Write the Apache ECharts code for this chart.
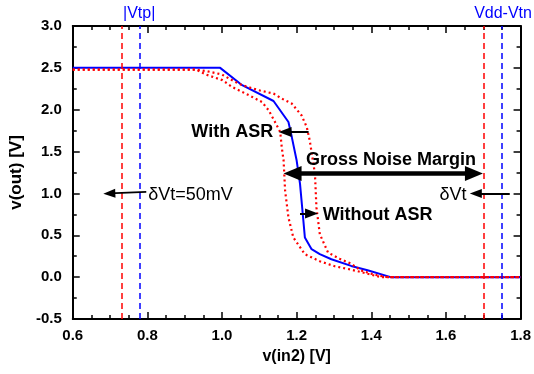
<!DOCTYPE html>
<html><head><meta charset="utf-8">
<script src="https://cdn.jsdelivr.net/npm/echarts@6/dist/echarts.min.js"></script>
<style>html,body{margin:0;padding:0;background:#fff}#c{width:534px;height:374px}</style>
</head><body><div id="c"></div>
<script>
// ---- data ----
const xTickLabels = ['0.6','0.8','1.0','1.2','1.4','1.6','1.8'];
const yTickLabels = ['-0.5','0.0','0.5','1.0','1.5','2.0','2.5','3.0'];

const blueX = [0.60, 0.995, 1.054, 1.138, 1.178, 1.187, 1.200, 1.209, 1.218, 1.222, 1.240, 1.262, 1.293, 1.346, 1.390, 1.452, 1.80];
const blueY = [2.50, 2.50, 2.293, 2.104, 1.853, 1.673, 1.393, 1.114, 0.674, 0.474, 0.334, 0.274, 0.214, 0.134, 0.083, 0.0, 0.0];

const redInnerX = [0.60, 0.93, 0.957, 1.001, 1.027, 1.072, 1.107, 1.125, 1.142, 1.156, 1.160, 1.165, 1.169, 1.178, 1.191, 1.222, 1.262, 1.302, 1.346, 1.390, 1.426, 1.80];
const redInnerY = [2.48, 2.48, 2.42, 2.353, 2.272, 2.173, 2.092, 1.993, 1.853, 1.733, 1.553, 1.393, 1.034, 0.713, 0.474, 0.274, 0.19, 0.13, 0.09, 0.04, 0.0, 0.0];

const redOuterX = [0.60, 0.93, 0.96, 1.00, 1.036, 1.054, 1.098, 1.138, 1.160, 1.187, 1.213, 1.227, 1.235, 1.249, 1.253, 1.262, 1.284, 1.315, 1.346, 1.372, 1.408, 1.443, 1.80];
const redOuterY = [2.48, 2.48, 2.46, 2.42, 2.33, 2.293, 2.233, 2.193, 2.133, 2.073, 1.933, 1.793, 1.633, 1.234, 0.833, 0.514, 0.294, 0.22, 0.16, 0.08, 0.03, 0.0, 0.0];

const redVLines = [0.728, 1.703];
const blueVLines = [0.778, 1.753];

// annotation arrows: [x1,y1,x2,y2] (head at x2,y2)
const arrowWithASR = [1.232, 1.735, 1.169, 1.735];
const arrowWithoutASR = [1.209, 0.760, 1.240, 0.760];
const arrowGross = [1.189, 1.238, 1.675, 1.238];
const arrowDvtLeft = [0.797, 1.018, 0.698, 1.000];
const arrowDvtRight = [1.771, 1.000, 1.680, 1.000];

// annotation texts
const textItems = [
  {name:'With ASR', value:[1.137, 1.735], bold:true, align:'right', color:'#000'},
  {name:'Gross Noise Margin', value:[1.225, 1.40], bold:true, align:'left', color:'#000'},
  {name:'Without ASR', value:[1.270, 0.745], bold:true, align:'left', color:'#000'},
  {name:'δVt=50mV', value:[0.802, 0.98], bold:false, align:'left', color:'#000'},
  {name:'δVt', value:[1.655, 0.98], bold:false, align:'right', color:'#000'},
  {name:'|Vtp|', value:[blueVLines[0], 3.0], bold:false, align:'center', color:'#0000ff', top:true},
  {name:'Vdd-Vtn', value:[blueVLines[1], 3.0], bold:false, align:'center', color:'#0000ff', top:true}
];

const zip = (xs, ys) => xs.map((x, i) => [x, ys[i]]);
const FONT = "'Liberation Sans', Arial, sans-serif";

const xMin = parseFloat(xTickLabels[0]), xMax = parseFloat(xTickLabels[xTickLabels.length-1]);
const yMin = parseFloat(yTickLabels[0]), yMax = parseFloat(yTickLabels[yTickLabels.length-1]);

function axisCommon(showLabel) {
  return {
    axisLine: {show:true, onZero:false, lineStyle:{color:'#000', width:2}},
    axisTick: {show:true, inside:true, length:7, lineStyle:{color:'#000', width:1.5}},
    splitLine: {show:false},
    minorSplitLine: {show:false},
    axisLabel: {show:showLabel, color:'#000', fontWeight:'bold', fontSize:15, fontFamily:FONT,
                formatter: v => v.toFixed(1)}
  };
}

function arrow(a, width, headW, headL, both) {
  const head = {symbol:'triangle', symbolSize:[headW, headL]};
  return [
    Object.assign({coord:[a[0], a[1]], lineStyle:{color:'#000', width:width, type:'solid'}}, both ? head : {symbol:'none'}),
    Object.assign({coord:[a[2], a[3]]}, head)
  ];
}

const chart = echarts.init(document.getElementById('c'), null, {renderer:'canvas'});
chart.setOption({
  animation:false,
  backgroundColor:'#fff',
  grid:{left:69, right:13, top:26, bottom:55, containLabel:false},
  xAxis:[
    Object.assign(axisCommon(true), {type:'value', min:xMin, max:xMax, interval:0.2, position:'bottom',
      minorTick:{show:true, splitNumber:4, length:4, lineStyle:{color:'#000', width:1.5}},
      axisLabel:{color:'#000', fontWeight:'bold', fontSize:15, fontFamily:FONT, margin:9, formatter:v=>v.toFixed(1)},
      name:'v(in2) [V]', nameLocation:'middle', nameGap:30,
      nameTextStyle:{color:'#000', fontWeight:'bold', fontSize:16, fontFamily:FONT}}),
    Object.assign(axisCommon(false), {type:'value', min:xMin, max:xMax, interval:0.2, position:'top',
      minorTick:{show:true, splitNumber:4, length:4, lineStyle:{color:'#000', width:1.5}}})
  ],
  yAxis:[
    Object.assign(axisCommon(true), {type:'value', min:yMin, max:yMax, interval:0.5, position:'left',
      minorTick:{show:true, splitNumber:2, length:4, lineStyle:{color:'#000', width:1.5}},
      axisLabel:{color:'#000', fontWeight:'bold', fontSize:15, fontFamily:FONT, margin:11, formatter:v=>v.toFixed(1)},
      name:'v(out) [V]', nameLocation:'middle', nameGap:37, nameRotate:90,
      nameTextStyle:{color:'#000', fontWeight:'bold', fontSize:17, fontFamily:FONT}}),
    Object.assign(axisCommon(false), {type:'value', min:yMin, max:yMax, interval:0.5, position:'right',
      minorTick:{show:true, splitNumber:2, length:4, lineStyle:{color:'#000', width:1.5}}})
  ],
  series:[
    {type:'line', name:'blue', data:zip(blueX, blueY), showSymbol:false, symbol:'none', z:3,
     lineStyle:{color:'#0000ff', width:2}},
    {type:'line', name:'redInner', data:zip(redInnerX, redInnerY), symbol:'none', z:4,
     lineStyle:{color:'#ff0000', width:2.2, type:[2,3]}},
    {type:'line', name:'redOuter', data:zip(redOuterX, redOuterY), symbol:'none', z:4,
     lineStyle:{color:'#ff0000', width:2.2, type:[2,3]}},
    {type:'line', name:'vlines', data:[], symbol:'none', z:2,
     markLine:{silent:true, symbol:'none', label:{show:false}, animation:false,
       data: redVLines.map(v => ({xAxis:v, lineStyle:{color:'#ff0000', width:1.5, type:[6,4]}}))
         .concat(blueVLines.map(v => ({xAxis:v, lineStyle:{color:'#0000ff', width:1.5, type:[6,4]}})))}},
    {type:'line', name:'arrows', data:[], symbol:'none', z:6,
     markLine:{silent:true, label:{show:false}, animation:false, symbolSize:[9,12],
       data:[
         arrow(arrowWithASR, 2, 10, 13, false),
         arrow(arrowWithoutASR, 2, 10, 13, false),
         arrow(arrowGross, 4.5, 15, 18, true),
         arrow(arrowDvtLeft, 1.8, 9, 12, false),
         arrow(arrowDvtRight, 1.8, 9, 12, false)
       ]}},
    {type:'scatter', name:'texts', symbolSize:0, clip:false, z:7, silent:true,
     itemStyle:{opacity:1},
     data: textItems.map(t => ({
       name:t.name, value:t.value,
       label:{show:true, formatter:'{b}', position: t.top ? 'top' : [0, 0],
              distance: t.top ? 4 : 0, opacity:1,
              align:t.align, verticalAlign: t.top ? 'bottom' : 'middle',
              color:t.color, textBorderWidth:0, textBorderColor:'transparent',
              fontFamily:FONT, fontWeight: t.bold ? 'bold' : 'normal',
              fontSize: t.bold ? 18 : (t.top ? 16 : 18)}
     }))}
  ]
});
</script></body></html>
